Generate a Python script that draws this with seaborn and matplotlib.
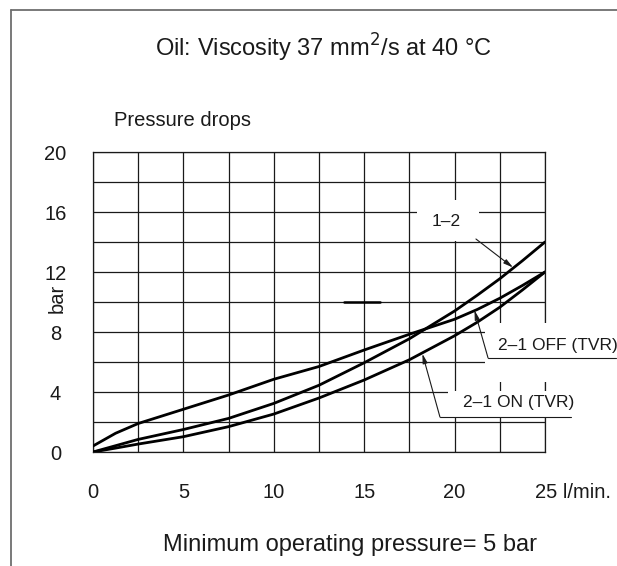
import matplotlib
matplotlib.use("Agg")
import matplotlib.pyplot as plt
from matplotlib.lines import Line2D
from matplotlib.patches import Rectangle
from matplotlib.transforms import ScaledTranslation
import numpy as np
import pandas as pd
import seaborn as sns

# Flow rate (l/min) and pressure drop (bar) for each flow direction
flow = [0, 1.25, 2.5, 5, 7.5, 10, 12.5, 15, 17.5, 20, 21.25, 22.5, 23.75, 25]
drop_1_2 = [0.0, 0.42, 0.84, 1.5, 2.24, 3.24, 4.45, 5.95, 7.55, 9.4, 10.45, 11.55, 12.75, 14.0]
drop_2_1_off = [0.4, 1.25, 1.9, 2.85, 3.8, 4.85, 5.7, 6.8, 7.85, 8.85, 9.5, 10.25, 11.1, 12.0]
drop_2_1_on = [0.0, 0.26, 0.53, 1.02, 1.69, 2.53, 3.6, 4.8, 6.15, 7.75, 8.65, 9.65, 10.8, 12.0]

series_names = ["1–2", "2–1 OFF (TVR)", "2–1 ON (TVR)"]
x_ticks = [0, 5, 10, 15, 20, 25]
x_tick_labels = ["0", "5", "10", "15", "20", "25 l/min."]
y_ticks = [0, 4, 8, 12, 16, 20]

df = pd.DataFrame({
    "flow": flow * 3,
    "drop": drop_1_2 + drop_2_1_off + drop_2_1_on,
    "series": np.repeat(series_names, len(flow)),
})

sns.set_style("white")
plt.rcParams["font.family"] = ["Liberation Sans", "DejaVu Sans"]
ink = "#1a1a1a"

fig = plt.figure(figsize=(6.17, 5.66), dpi=100)
W, H = 617, 566
ax = fig.add_axes([93 / W, 1 - 452 / H, 452 / W, 300 / H])

sns.lineplot(data=df, x="flow", y="drop", hue="series",
             palette=["black"] * 3, linewidth=2.0, legend=False,
             ax=ax, zorder=3)

ax.set_xlim(0, 25)
ax.set_ylim(0, 20)
ax.set_xticks(x_ticks)
ax.set_xticklabels(x_tick_labels)
ax.set_xticks(np.arange(0, 25.01, 2.5), minor=True)
ax.set_yticks(y_ticks)
ax.set_yticks(np.arange(0, 20.01, 2), minor=True)
ax.set_axisbelow(True)
ax.grid(which="both", color=ink, linewidth=0.9)
for s in ax.spines.values():
    s.set_visible(True)
    s.set_color(ink)
    s.set_linewidth(0.9)

ax.tick_params(which="major", direction="out", length=8, width=0.9,
               color=ink, labelsize=14.5, labelcolor=ink)
ax.tick_params(which="minor", length=0)
ax.tick_params(axis="x", pad=14)
ax.tick_params(axis="y", pad=19)
for lab in ax.get_yticklabels():
    lab.set_horizontalalignment("center")

# "25 l/min." keeps the number centred on its tick
last = ax.get_xticklabels()[-1]
last.set_horizontalalignment("left")
last.set_transform(last.get_transform() + ScaledTranslation(-0.10, 0, fig.dpi_scale_trans))

ax.set_xlabel("")
ax.set_ylabel("")

# white panels behind the curve labels
for (x0, y0, w, h) in [(17.92, 14.07, 3.43, 2.73),
                       (21.68, 4.67, 7.5, 3.93),
                       (19.63, 2.27, 9.5, 1.78)]:
    ax.add_patch(Rectangle((x0, y0), w, h, facecolor="white",
                           edgecolor="none", zorder=2.7, clip_on=False))

# heavier stroke on the 10 bar line
ax.plot([13.9, 15.9], [10, 10], color="black", linewidth=1.8, zorder=1)

# curve labels with leader lines
arrow = dict(arrowstyle="-|>,head_length=0.7,head_width=0.18", color=ink,
             lw=0.8, mutation_scale=8, shrinkA=0, shrinkB=0)
ax.text(19.55, 15.4, series_names[0], fontsize=12.5, color=ink,
        ha="center", va="center", zorder=4)
ax.annotate("", xy=(23.23, 12.3), xytext=(21.18, 14.2),
            arrowprops=arrow, zorder=4, annotation_clip=False)

ax.text(22.4, 7.13, series_names[1], fontsize=12.5, color=ink,
        ha="left", va="center", zorder=4, clip_on=False)
ax.plot([21.85, 28.9], [6.27, 6.27], color=ink, lw=0.8, zorder=4, clip_on=False)
ax.annotate("", xy=(21.1, 9.45), xytext=(21.85, 6.27),
            arrowprops=arrow, zorder=4, annotation_clip=False)

ax.text(20.46, 3.33, series_names[2], fontsize=12.5, color=ink,
        ha="left", va="center", zorder=4, clip_on=False)
ax.plot([19.19, 26.44], [2.33, 2.33], color=ink, lw=0.8, zorder=4, clip_on=False)
ax.annotate("", xy=(18.22, 6.55), xytext=(19.19, 2.33),
            arrowprops=arrow, zorder=4, annotation_clip=False)

# titles and captions
fig.text(324 / W, 1 - 48 / H, "Oil: Viscosity 37 mm$^2$/s at 40 °C",
         fontsize=17, color=ink, ha="center", va="center")
fig.text(183 / W, 1 - 120 / H, "Pressure drops", fontsize=14.5,
         color=ink, ha="center", va="center")
fig.text(57 / W, 1 - 298 / H, "bar", fontsize=14.5, color=ink,
         rotation=90, ha="center", va="center")
fig.text(350 / W, 1 - 545 / H, "Minimum operating pressure= 5 bar",
         fontsize=17, color=ink, ha="center", va="center")

# outer frame (top and left edges)
frame = "#6e6e6e"
fig.add_artist(Line2D([11 / W, 1], [1 - 10 / H, 1 - 10 / H],
                      transform=fig.transFigure, color=frame, lw=1.3))
fig.add_artist(Line2D([11 / W, 11 / W], [0, 1 - 10 / H],
                      transform=fig.transFigure, color=frame, lw=1.3))

fig.savefig("out.png", dpi=100, facecolor="white")
